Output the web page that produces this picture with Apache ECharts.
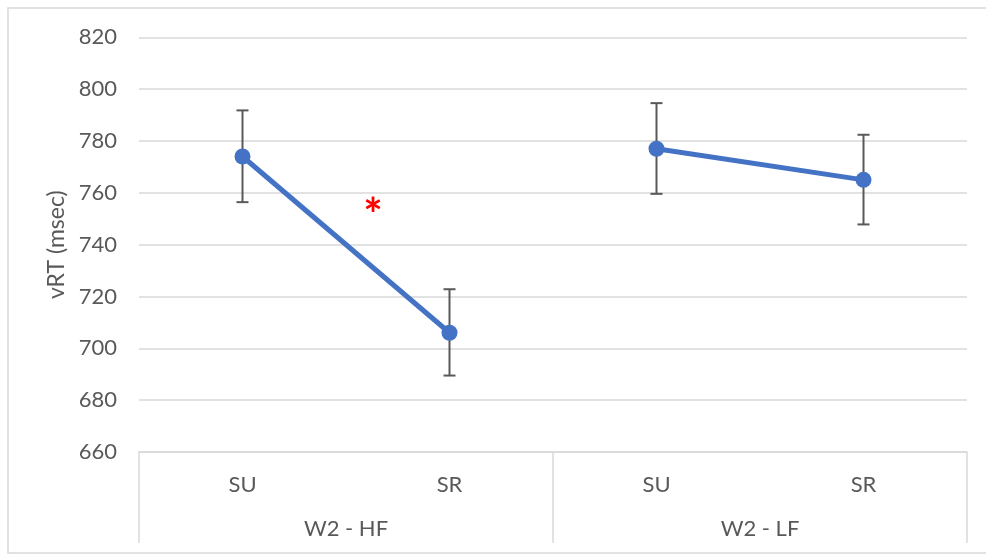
<!DOCTYPE html>
<html>
<head>
<meta charset="utf-8">
<script src="https://cdn.jsdelivr.net/npm/echarts@6/dist/echarts.min.js"></script>
<style>
html,body{margin:0;padding:0;background:#fff;}
#chart{width:986px;height:554px;}
</style>
</head>
<body>
<div id="chart"></div>
<script>
const categories = ['SU', 'SR', 'SU', 'SR'];
const groups = ['W2 - HF', 'W2 - LF'];
const meanHF = [774, 706];
const meanLF = [777, 765];
const errLowHF = [756.4, 689.5];
const errHighHF = [791.8, 722.8];
const errLowLF = [759.6, 747.8];
const errHighLF = [794.6, 782.4];
const yTicks = [660, 680, 700, 720, 740, 760, 780, 800, 820];

const FONT = 'Lato, "Open Sans", sans-serif';
const chart = echarts.init(document.getElementById('chart'));

const lineHF = [[0, meanHF[0]], [1, meanHF[1]]];
const lineLF = [[2, meanLF[0]], [3, meanLF[1]]];
const errData = [
  [0, errLowHF[0], errHighHF[0]],
  [1, errLowHF[1], errHighHF[1]],
  [2, errLowLF[0], errHighLF[0]],
  [3, errLowLF[1], errHighLF[1]]
];

const option = {
  animation: false,
  backgroundColor: '#fff',
  grid: { left: 139, right: 19, top: 37.3, bottom: 102, containLabel: false },
  xAxis: [
    {
      type: 'category',
      data: categories,
      boundaryGap: true,
      axisLine: { show: true, lineStyle: { color: '#d9d9d9', width: 1.5 } },
      axisTick: { show: false },
      axisLabel: { color: '#595959', fontSize: 22, fontFamily: FONT, margin: 22 },
      splitLine: { show: false }
    },
    {
      type: 'category',
      data: groups,
      position: 'bottom',
      offset: 0,
      boundaryGap: true,
      axisLine: { show: false },
      axisTick: { show: true, length: 91, lineStyle: { color: '#d9d9d9', width: 1.5 } },
      axisLabel: { color: '#595959', fontSize: 22, fontFamily: FONT, margin: 66 },
      splitLine: { show: false }
    }
  ],
  yAxis: {
    type: 'value',
    min: yTicks[0],
    max: yTicks[yTicks.length - 1],
    interval: 20,
    name: 'vRT (msec)',
    nameLocation: 'middle',
    nameGap: 70,
    nameRotate: 90,
    nameTextStyle: { color: '#595959', fontSize: 23, fontFamily: FONT },
    axisLine: { show: false },
    axisTick: { show: false },
    axisLabel: { color: '#595959', fontSize: 22, fontFamily: FONT, margin: 22 },
    splitLine: { lineStyle: { color: '#d9d9d9', width: 1.5 } }
  },
  graphic: [
    {
      type: 'rect',
      shape: { x: 8, y: 8, width: 1000, height: 545 },
      style: { fill: 'none', stroke: '#d9d9d9', lineWidth: 1.5 },
      silent: true,
      z: -1
    },
    {
      type: 'text',
      x: 373,
      y: 216,
      style: { text: '*', fill: '#ff0000', font: 'bold 46px ' + FONT, textAlign: 'center', textVerticalAlign: 'middle' },
      z: 10
    }
  ],
  series: [
    {
      type: 'custom',
      name: 'err',
      xAxisIndex: 0,
      renderItem: function (params, api) {
        const x = api.value(0);
        const lo = api.coord([x, api.value(1)]);
        const hi = api.coord([x, api.value(2)]);
        const cap = 6;
        const st = { stroke: '#595959', lineWidth: 2 };
        return {
          type: 'group',
          children: [
            { type: 'line', shape: { x1: lo[0], y1: lo[1], x2: hi[0], y2: hi[1] }, style: st },
            { type: 'line', shape: { x1: lo[0] - cap, y1: lo[1], x2: lo[0] + cap, y2: lo[1] }, style: st },
            { type: 'line', shape: { x1: hi[0] - cap, y1: hi[1], x2: hi[0] + cap, y2: hi[1] }, style: st }
          ]
        };
      },
      data: errData,
      z: 1
    },
    {
      type: 'line',
      xAxisIndex: 0,
      data: lineHF,
      symbol: 'circle',
      symbolSize: 16,
      itemStyle: { color: '#4472C4' },
      lineStyle: { color: '#4472C4', width: 5 },
      z: 3
    },
    {
      type: 'line',
      xAxisIndex: 0,
      data: lineLF,
      symbol: 'circle',
      symbolSize: 16,
      itemStyle: { color: '#4472C4' },
      lineStyle: { color: '#4472C4', width: 5 },
      z: 3
    }
  ]
};
chart.setOption(option);
</script>
</body>
</html>
